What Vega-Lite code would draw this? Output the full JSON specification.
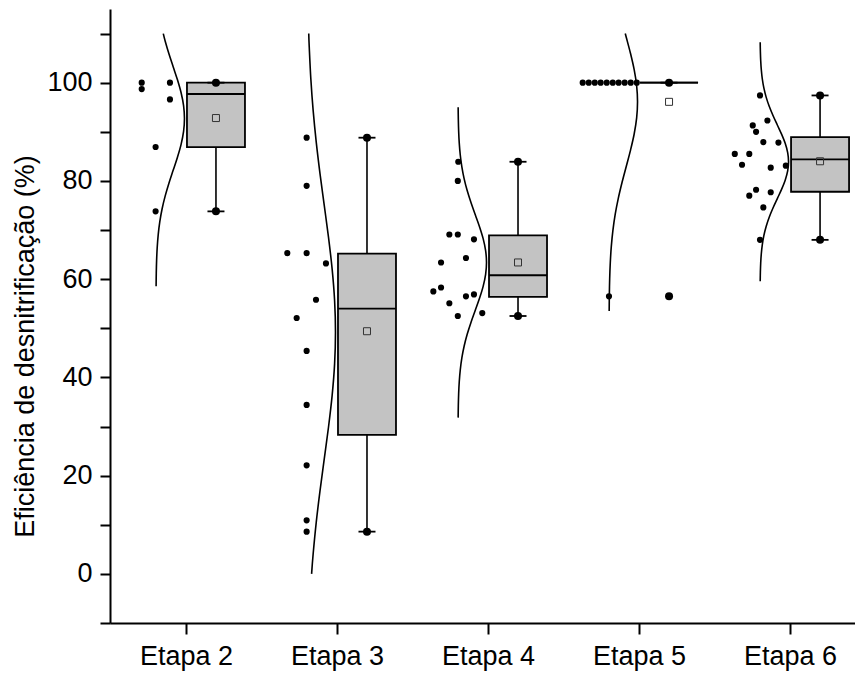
{
  "$schema": "https://vega.github.io/schema/vega-lite/v6.json",
  "width": 745,
  "height": 614,
  "autosize": "none",
  "padding": {"left": 110, "top": 9, "right": 0, "bottom": 50},
  "background": "white",
  "config": {"view": {"stroke": null}, "font": "Liberation Sans", "scale": {"continuousPadding": 0}},
  "datasets": {
    "pts": [
      {"etapa": 2, "x": 1.707, "v": 100.0},
      {"etapa": 2, "x": 1.707, "v": 98.7},
      {"etapa": 2, "x": 1.894, "v": 100.0},
      {"etapa": 2, "x": 1.894, "v": 96.6},
      {"etapa": 2, "x": 1.799, "v": 86.9},
      {"etapa": 2, "x": 1.799, "v": 73.8},
      {"etapa": 3, "x": 2.799, "v": 88.8},
      {"etapa": 3, "x": 2.799, "v": 79.0},
      {"etapa": 3, "x": 2.671, "v": 65.3},
      {"etapa": 3, "x": 2.799, "v": 65.3},
      {"etapa": 3, "x": 2.927, "v": 63.2},
      {"etapa": 3, "x": 2.861, "v": 55.8},
      {"etapa": 3, "x": 2.733, "v": 52.1},
      {"etapa": 3, "x": 2.799, "v": 45.4},
      {"etapa": 3, "x": 2.799, "v": 34.4},
      {"etapa": 3, "x": 2.799, "v": 22.1},
      {"etapa": 3, "x": 2.799, "v": 10.9},
      {"etapa": 3, "x": 2.799, "v": 8.6},
      {"etapa": 4, "x": 3.803, "v": 83.9},
      {"etapa": 4, "x": 3.8, "v": 80.0},
      {"etapa": 4, "x": 3.744, "v": 69.1},
      {"etapa": 4, "x": 3.8, "v": 69.1},
      {"etapa": 4, "x": 3.907, "v": 68.1},
      {"etapa": 4, "x": 3.854, "v": 64.3},
      {"etapa": 4, "x": 3.689, "v": 63.4},
      {"etapa": 4, "x": 3.689, "v": 58.3},
      {"etapa": 4, "x": 3.638, "v": 57.5},
      {"etapa": 4, "x": 3.854, "v": 56.5},
      {"etapa": 4, "x": 3.907, "v": 56.9},
      {"etapa": 4, "x": 3.744, "v": 55.1},
      {"etapa": 4, "x": 3.8, "v": 52.5},
      {"etapa": 4, "x": 3.962, "v": 53.1},
      {"etapa": 5, "x": 4.627, "v": 100},
      {"etapa": 5, "x": 4.667, "v": 100},
      {"etapa": 5, "x": 4.707, "v": 100},
      {"etapa": 5, "x": 4.746, "v": 100},
      {"etapa": 5, "x": 4.786, "v": 100},
      {"etapa": 5, "x": 4.826, "v": 100},
      {"etapa": 5, "x": 4.865, "v": 100},
      {"etapa": 5, "x": 4.905, "v": 100},
      {"etapa": 5, "x": 4.945, "v": 100},
      {"etapa": 5, "x": 4.985, "v": 100},
      {"etapa": 5, "x": 4.801, "v": 56.5},
      {"etapa": 6, "x": 5.801, "v": 97.4},
      {"etapa": 6, "x": 5.85, "v": 92.3},
      {"etapa": 6, "x": 5.753, "v": 91.3},
      {"etapa": 6, "x": 5.775, "v": 90.0},
      {"etapa": 6, "x": 5.823, "v": 87.9},
      {"etapa": 6, "x": 5.923, "v": 87.8},
      {"etapa": 6, "x": 5.634, "v": 85.5},
      {"etapa": 6, "x": 5.73, "v": 85.5},
      {"etapa": 6, "x": 5.682, "v": 83.3},
      {"etapa": 6, "x": 5.872, "v": 82.7},
      {"etapa": 6, "x": 5.972, "v": 83.1},
      {"etapa": 6, "x": 5.775, "v": 78.2},
      {"etapa": 6, "x": 5.73, "v": 77.0},
      {"etapa": 6, "x": 5.872, "v": 77.7},
      {"etapa": 6, "x": 5.823, "v": 74.6},
      {"etapa": 6, "x": 5.801, "v": 68.0}
    ],
    "curva": [
      {"etapa": 2, "v": 58.56, "x": 1.8023},
      {"etapa": 2, "v": 61.2, "x": 1.8034},
      {"etapa": 2, "v": 63.83, "x": 1.8056},
      {"etapa": 2, "v": 66.45, "x": 1.8096},
      {"etapa": 2, "v": 69.08, "x": 1.8163},
      {"etapa": 2, "v": 71.7, "x": 1.8268},
      {"etapa": 2, "v": 74.33, "x": 1.8421},
      {"etapa": 2, "v": 76.95, "x": 1.8626},
      {"etapa": 2, "v": 79.58, "x": 1.8877},
      {"etapa": 2, "v": 82.2, "x": 1.9157},
      {"etapa": 2, "v": 84.83, "x": 1.9437},
      {"etapa": 2, "v": 87.45, "x": 1.9678},
      {"etapa": 2, "v": 90.08, "x": 1.9842},
      {"etapa": 2, "v": 92.7, "x": 1.99},
      {"etapa": 2, "v": 95.33, "x": 1.9842},
      {"etapa": 2, "v": 97.95, "x": 1.9678},
      {"etapa": 2, "v": 100.58, "x": 1.9437},
      {"etapa": 2, "v": 103.2, "x": 1.9157},
      {"etapa": 2, "v": 105.83, "x": 1.8877},
      {"etapa": 2, "v": 108.45, "x": 1.8626},
      {"etapa": 2, "v": 110, "x": 1.8498},
      {"etapa": 3, "v": 0, "x": 2.8319},
      {"etapa": 3, "v": 4.05, "x": 2.8421},
      {"etapa": 3, "v": 10.5, "x": 2.8626},
      {"etapa": 3, "v": 16.95, "x": 2.8877},
      {"etapa": 3, "v": 23.4, "x": 2.9157},
      {"etapa": 3, "v": 29.85, "x": 2.9437},
      {"etapa": 3, "v": 36.3, "x": 2.9678},
      {"etapa": 3, "v": 42.75, "x": 2.9842},
      {"etapa": 3, "v": 49.2, "x": 2.99},
      {"etapa": 3, "v": 55.65, "x": 2.9842},
      {"etapa": 3, "v": 62.1, "x": 2.9678},
      {"etapa": 3, "v": 68.55, "x": 2.9437},
      {"etapa": 3, "v": 75, "x": 2.9157},
      {"etapa": 3, "v": 81.45, "x": 2.8877},
      {"etapa": 3, "v": 87.9, "x": 2.8626},
      {"etapa": 3, "v": 94.35, "x": 2.8421},
      {"etapa": 3, "v": 100.8, "x": 2.8268},
      {"etapa": 3, "v": 107.25, "x": 2.8163},
      {"etapa": 3, "v": 110, "x": 2.813},
      {"etapa": 4, "v": 31.81, "x": 3.8023},
      {"etapa": 4, "v": 34.24, "x": 3.8034},
      {"etapa": 4, "v": 36.67, "x": 3.8056},
      {"etapa": 4, "v": 39.1, "x": 3.8096},
      {"etapa": 4, "v": 41.53, "x": 3.8163},
      {"etapa": 4, "v": 43.96, "x": 3.8268},
      {"etapa": 4, "v": 46.39, "x": 3.8421},
      {"etapa": 4, "v": 48.82, "x": 3.8626},
      {"etapa": 4, "v": 51.25, "x": 3.8877},
      {"etapa": 4, "v": 53.68, "x": 3.9157},
      {"etapa": 4, "v": 56.11, "x": 3.9437},
      {"etapa": 4, "v": 58.54, "x": 3.9678},
      {"etapa": 4, "v": 60.97, "x": 3.9842},
      {"etapa": 4, "v": 63.4, "x": 3.99},
      {"etapa": 4, "v": 65.83, "x": 3.9842},
      {"etapa": 4, "v": 68.26, "x": 3.9678},
      {"etapa": 4, "v": 70.69, "x": 3.9437},
      {"etapa": 4, "v": 73.12, "x": 3.9157},
      {"etapa": 4, "v": 75.55, "x": 3.8877},
      {"etapa": 4, "v": 77.98, "x": 3.8626},
      {"etapa": 4, "v": 80.41, "x": 3.8421},
      {"etapa": 4, "v": 82.84, "x": 3.8268},
      {"etapa": 4, "v": 85.27, "x": 3.8163},
      {"etapa": 4, "v": 87.7, "x": 3.8096},
      {"etapa": 4, "v": 90.13, "x": 3.8056},
      {"etapa": 4, "v": 92.56, "x": 3.8034},
      {"etapa": 4, "v": 94.99, "x": 3.8023},
      {"etapa": 5, "v": 53.53, "x": 4.8023},
      {"etapa": 5, "v": 56.8, "x": 4.8034},
      {"etapa": 5, "v": 60.08, "x": 4.8056},
      {"etapa": 5, "v": 63.35, "x": 4.8096},
      {"etapa": 5, "v": 66.63, "x": 4.8163},
      {"etapa": 5, "v": 69.9, "x": 4.8268},
      {"etapa": 5, "v": 73.18, "x": 4.8421},
      {"etapa": 5, "v": 76.45, "x": 4.8626},
      {"etapa": 5, "v": 79.73, "x": 4.8877},
      {"etapa": 5, "v": 83.0, "x": 4.9157},
      {"etapa": 5, "v": 86.28, "x": 4.9437},
      {"etapa": 5, "v": 89.55, "x": 4.9678},
      {"etapa": 5, "v": 92.83, "x": 4.9842},
      {"etapa": 5, "v": 96.1, "x": 4.99},
      {"etapa": 5, "v": 99.38, "x": 4.9842},
      {"etapa": 5, "v": 102.65, "x": 4.9678},
      {"etapa": 5, "v": 105.93, "x": 4.9437},
      {"etapa": 5, "v": 109.2, "x": 4.9157},
      {"etapa": 5, "v": 110, "x": 4.9088},
      {"etapa": 6, "v": 59.56, "x": 5.8023},
      {"etapa": 6, "v": 61.43, "x": 5.8034},
      {"etapa": 6, "v": 63.3, "x": 5.8056},
      {"etapa": 6, "v": 65.18, "x": 5.8096},
      {"etapa": 6, "v": 67.05, "x": 5.8163},
      {"etapa": 6, "v": 68.92, "x": 5.8268},
      {"etapa": 6, "v": 70.79, "x": 5.8421},
      {"etapa": 6, "v": 72.67, "x": 5.8626},
      {"etapa": 6, "v": 74.54, "x": 5.8877},
      {"etapa": 6, "v": 76.41, "x": 5.9157},
      {"etapa": 6, "v": 78.28, "x": 5.9437},
      {"etapa": 6, "v": 80.16, "x": 5.9678},
      {"etapa": 6, "v": 82.03, "x": 5.9842},
      {"etapa": 6, "v": 83.9, "x": 5.99},
      {"etapa": 6, "v": 85.77, "x": 5.9842},
      {"etapa": 6, "v": 87.65, "x": 5.9678},
      {"etapa": 6, "v": 89.52, "x": 5.9437},
      {"etapa": 6, "v": 91.39, "x": 5.9157},
      {"etapa": 6, "v": 93.26, "x": 5.8877},
      {"etapa": 6, "v": 95.14, "x": 5.8626},
      {"etapa": 6, "v": 97.01, "x": 5.8421},
      {"etapa": 6, "v": 98.88, "x": 5.8268},
      {"etapa": 6, "v": 100.75, "x": 5.8163},
      {"etapa": 6, "v": 102.63, "x": 5.8096},
      {"etapa": 6, "v": 104.5, "x": 5.8056},
      {"etapa": 6, "v": 106.37, "x": 5.8034},
      {"etapa": 6, "v": 108.24, "x": 5.8023}
    ],
    "caixa": [
      {"etapa": 2, "lo": 73.8, "q1": 86.9, "med": 97.7, "q3": 100, "hi": 100, "media": 92.8},
      {"etapa": 3, "lo": 8.6, "q1": 28.3, "med": 54.0, "q3": 65.2, "hi": 88.8, "media": 49.4},
      {"etapa": 4, "lo": 52.5, "q1": 56.4, "med": 60.8, "q3": 68.9, "hi": 83.9, "media": 63.4},
      {"etapa": 5, "lo": 100, "q1": 100, "med": 100, "q3": 100, "hi": 100, "media": 96.1},
      {"etapa": 6, "lo": 68.0, "q1": 77.8, "med": 84.4, "q3": 88.9, "hi": 97.4, "media": 84.0}
    ],
    "extremos": [
      {"etapa": 2, "v": 100, "tipo": "bigode"},
      {"etapa": 2, "v": 73.8, "tipo": "bigode"},
      {"etapa": 3, "v": 88.8, "tipo": "bigode"},
      {"etapa": 3, "v": 8.6, "tipo": "bigode"},
      {"etapa": 4, "v": 83.9, "tipo": "bigode"},
      {"etapa": 4, "v": 52.5, "tipo": "bigode"},
      {"etapa": 5, "v": 100, "tipo": "bigode"},
      {"etapa": 5, "v": 56.5, "tipo": "outlier"},
      {"etapa": 6, "v": 97.4, "tipo": "bigode"},
      {"etapa": 6, "v": 68.0, "tipo": "bigode"}
    ]
  },
  "layer": [
    {
      "data": {"name": "caixa"},
      "mark": {"type": "point", "opacity": 0},
      "encoding": {
        "x": {"field": "etapa", "type": "quantitative", "scale": {"domain": [1.497, 6.43], "nice": false, "zero": false, "padding": 0},
          "axis": {"orient": "bottom", "values": [2, 3, 4, 5, 6], "labelExpr": "'Etapa ' + datum.value",
            "tickSize": 11, "tickWidth": 2, "tickColor": "black", "domainWidth": 2, "domainColor": "black",
            "labelFont": "Liberation Sans", "labelFontSize": 27, "labelColor": "black", "labelPadding": 9,
            "labelOverlap": false, "labelFlush": false, "grid": false, "title": null}},
        "y": {"field": "med", "type": "quantitative", "scale": {"domain": [-10, 115], "nice": false, "zero": false, "padding": 0},
          "axis": {"orient": "left", "values": [-10, 0, 10, 20, 30, 40, 50, 60, 70, 80, 90, 100, 110],
            "labelExpr": "datum.value % 20 === 0 ? datum.label : ''",
            "tickSize": 10,
            "encode": {"ticks": {"update": {"x2": {"signal": "datum.value % 20 === 0 ? -10 : -5"}}}},
            "tickWidth": 2, "tickColor": "black", "domainWidth": 2, "domainColor": "black",
            "labelFont": "Liberation Sans", "labelFontSize": 27, "labelColor": "black", "labelPadding": 8,
            "labelOverlap": false, "labelFlush": false, "grid": false,
            "title": "Eficiência de desnitrificação (%)", "titleFont": "Liberation Sans", "titleFontSize": 27,
            "titleFontWeight": "normal", "titleColor": "black", "titleBaseline": "alphabetic",
            "titleX": -76.5, "titleY": 337, "titleAngle": -90}}
      }
    },
    {
      "mark": {"type": "rule", "color": "#333333", "strokeWidth": 1},
      "encoding": {"y": {"datum": 115, "type": "quantitative"}}
    },
    {
      "data": {"name": "curva"},
      "mark": {"type": "line", "color": "black", "strokeWidth": 1.6, "interpolate": "cardinal"},
      "encoding": {
        "x": {"field": "x", "type": "quantitative"},
        "y": {"field": "v", "type": "quantitative"},
        "detail": {"field": "etapa", "type": "nominal"},
        "order": {"field": "v", "type": "quantitative"}
      }
    },
    {
      "data": {"name": "pts"},
      "mark": {"type": "circle", "color": "black", "size": 38, "opacity": 1},
      "encoding": {
        "x": {"field": "x", "type": "quantitative"},
        "y": {"field": "v", "type": "quantitative"}
      }
    },
    {
      "data": {"name": "caixa"},
      "mark": {"type": "rule", "color": "black", "strokeWidth": 1.6, "xOffset": 30},
      "encoding": {
        "x": {"field": "etapa", "type": "quantitative"},
        "y": {"field": "lo", "type": "quantitative"},
        "y2": {"field": "hi"}
      }
    },
    {
      "data": {"name": "caixa"},
      "mark": {"type": "bar", "width": 58, "xOffset": 30, "fill": "#c3c3c3", "stroke": "black", "strokeWidth": 1.8},
      "encoding": {
        "x": {"field": "etapa", "type": "quantitative"},
        "y": {"field": "q1", "type": "quantitative"},
        "y2": {"field": "q3"}
      }
    },
    {
      "data": {"name": "caixa"},
      "mark": {"type": "tick", "orient": "horizontal", "size": 58, "thickness": 1.8, "color": "black", "xOffset": 30, "opacity": 1},
      "encoding": {
        "x": {"field": "etapa", "type": "quantitative"},
        "y": {"field": "med", "type": "quantitative"}
      }
    },
    {
      "data": {"name": "extremos"},
      "transform": [{"filter": "datum.tipo === 'bigode'"}],
      "mark": {"type": "tick", "orient": "horizontal", "size": 17, "thickness": 1.8, "color": "black", "xOffset": 30, "opacity": 1},
      "encoding": {
        "x": {"field": "etapa", "type": "quantitative"},
        "y": {"field": "v", "type": "quantitative"}
      }
    },
    {
      "data": {"name": "extremos"},
      "mark": {"type": "circle", "color": "black", "size": 64, "opacity": 1, "xOffset": 30},
      "encoding": {
        "x": {"field": "etapa", "type": "quantitative"},
        "y": {"field": "v", "type": "quantitative"}
      }
    },
    {
      "data": {"name": "caixa"},
      "mark": {"type": "square", "size": 49, "filled": false, "stroke": "#333333", "strokeWidth": 1, "xOffset": 30, "opacity": 1},
      "encoding": {
        "x": {"field": "etapa", "type": "quantitative"},
        "y": {"field": "media", "type": "quantitative"}
      }
    }
  ]
}
